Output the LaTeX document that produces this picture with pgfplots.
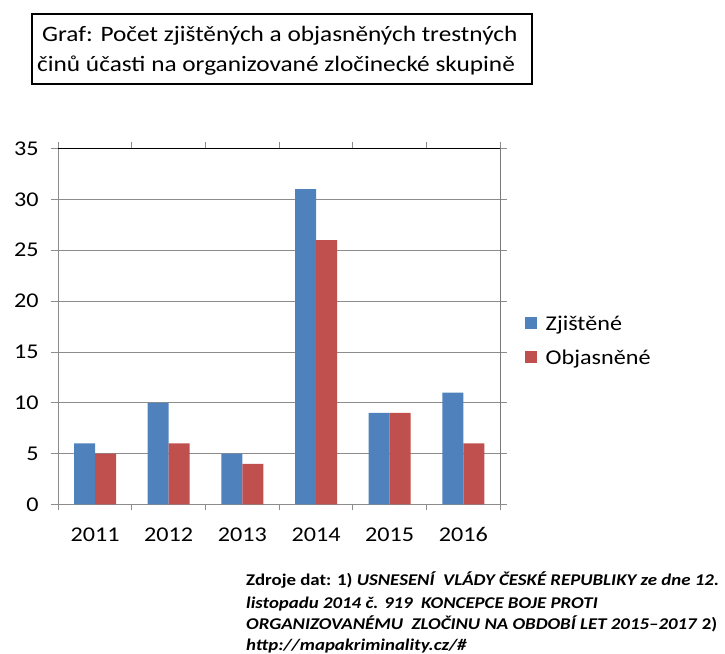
\documentclass[border=0pt]{standalone}
\usepackage{pgfplots}
\pgfplotsset{compat=1.18}
\usepackage{fontspec}
\setmainfont{Carlito}[FakeStretch=1.15]
\definecolor{xblue}{HTML}{4F81BD}
\definecolor{xred}{HTML}{C0504D}
\definecolor{xgrid}{HTML}{8C8C8C}
\begin{document}
\begin{tikzpicture}[x=1pt,y=1pt]
\useasboundingbox (0,0) rectangle (725,653);
% title box
\draw[line width=1.2pt] (32,569) rectangle (532,639);
\node[anchor=base west,inner sep=0pt,font=\fontsize{22}{26}\selectfont] at (42,611) {Graf: Počet zjištěných a objasněných trestných};
\node[anchor=base west,inner sep=0pt,font=\fontsize{22}{26}\selectfont] at (37,581) {činů účasti na organizované zločinecké skupině};
\begin{axis}[
  at={(79,146)}, anchor=south west,
  scale only axis, width=442pt, height=356pt,
  ymin=0, ymax=35, ytick={0,5,...,35},
  xmin=-0.5, xmax=5.5,
  xtick={0,...,5}, xticklabels={2011,2012,2013,2014,2015,2016},
  minor xtick={-0.5,0.5,1.5,2.5,3.5,4.5,5.5},
  major x tick style={draw=none},
  tick align=outside, major tick length=7pt, minor tick length=6pt,
  every tick/.style={xgrid, line width=0.8pt},
  ymajorgrids, grid style={xgrid, line width=0.8pt},
  axis line style={xgrid, line width=0.8pt},
  ybar=0pt, bar width=21pt,
  ticklabel style={font=\fontsize{21}{24}\selectfont},
  /pgf/number format/assume math mode=true,
  yticklabel style={xshift=-9pt},
  xticklabel style={yshift=-12pt, text height=14pt, text depth=0pt},
  legend style={draw=none, fill=none, at={(1.055,0.46)}, anchor=west,
    font=\fontsize{21}{24}\selectfont, row sep=14pt, inner sep=0pt},
  legend cell align=left,
  legend image code/.code={\fill[#1] (0pt,-5pt) rectangle (12pt,7pt); \path (19pt,0pt);},
]
\addplot[fill=xblue, draw=none] coordinates {(0,6) (1,10) (2,5) (3,31) (4,9) (5,11)};
\addplot[fill=xred, draw=none] coordinates {(0,5) (1,6) (2,4) (3,26) (4,9) (5,6)};
\legend{Zjištěné, Objasněné}
\draw[black, line width=1pt] (rel axis cs:0,1) -- (rel axis cs:1,1) -- (rel axis cs:1,0);
\end{axis}
\begin{scope}[every node/.style={anchor=base west, inner sep=0pt, font=\fontsize{16.4}{18}\selectfont\bfseries}]
\node at (246,67) {Zdroje dat: 1) \textit{USNESENÍ\ \ VLÁDY ČESKÉ REPUBLIKY ze dne 12.}};
\node at (246,45) {\textit{listopadu 2014 č. 919\ \ KONCEPCE BOJE PROTI}};
\node at (246,24) {\textit{ORGANIZOVANÉMU\ \ ZLOČINU NA OBDOBÍ LET 2015–2017} 2)};
\node at (246,3) {\textit{http://mapakriminality.cz/\#}};
\end{scope}
\end{tikzpicture}
\end{document}
